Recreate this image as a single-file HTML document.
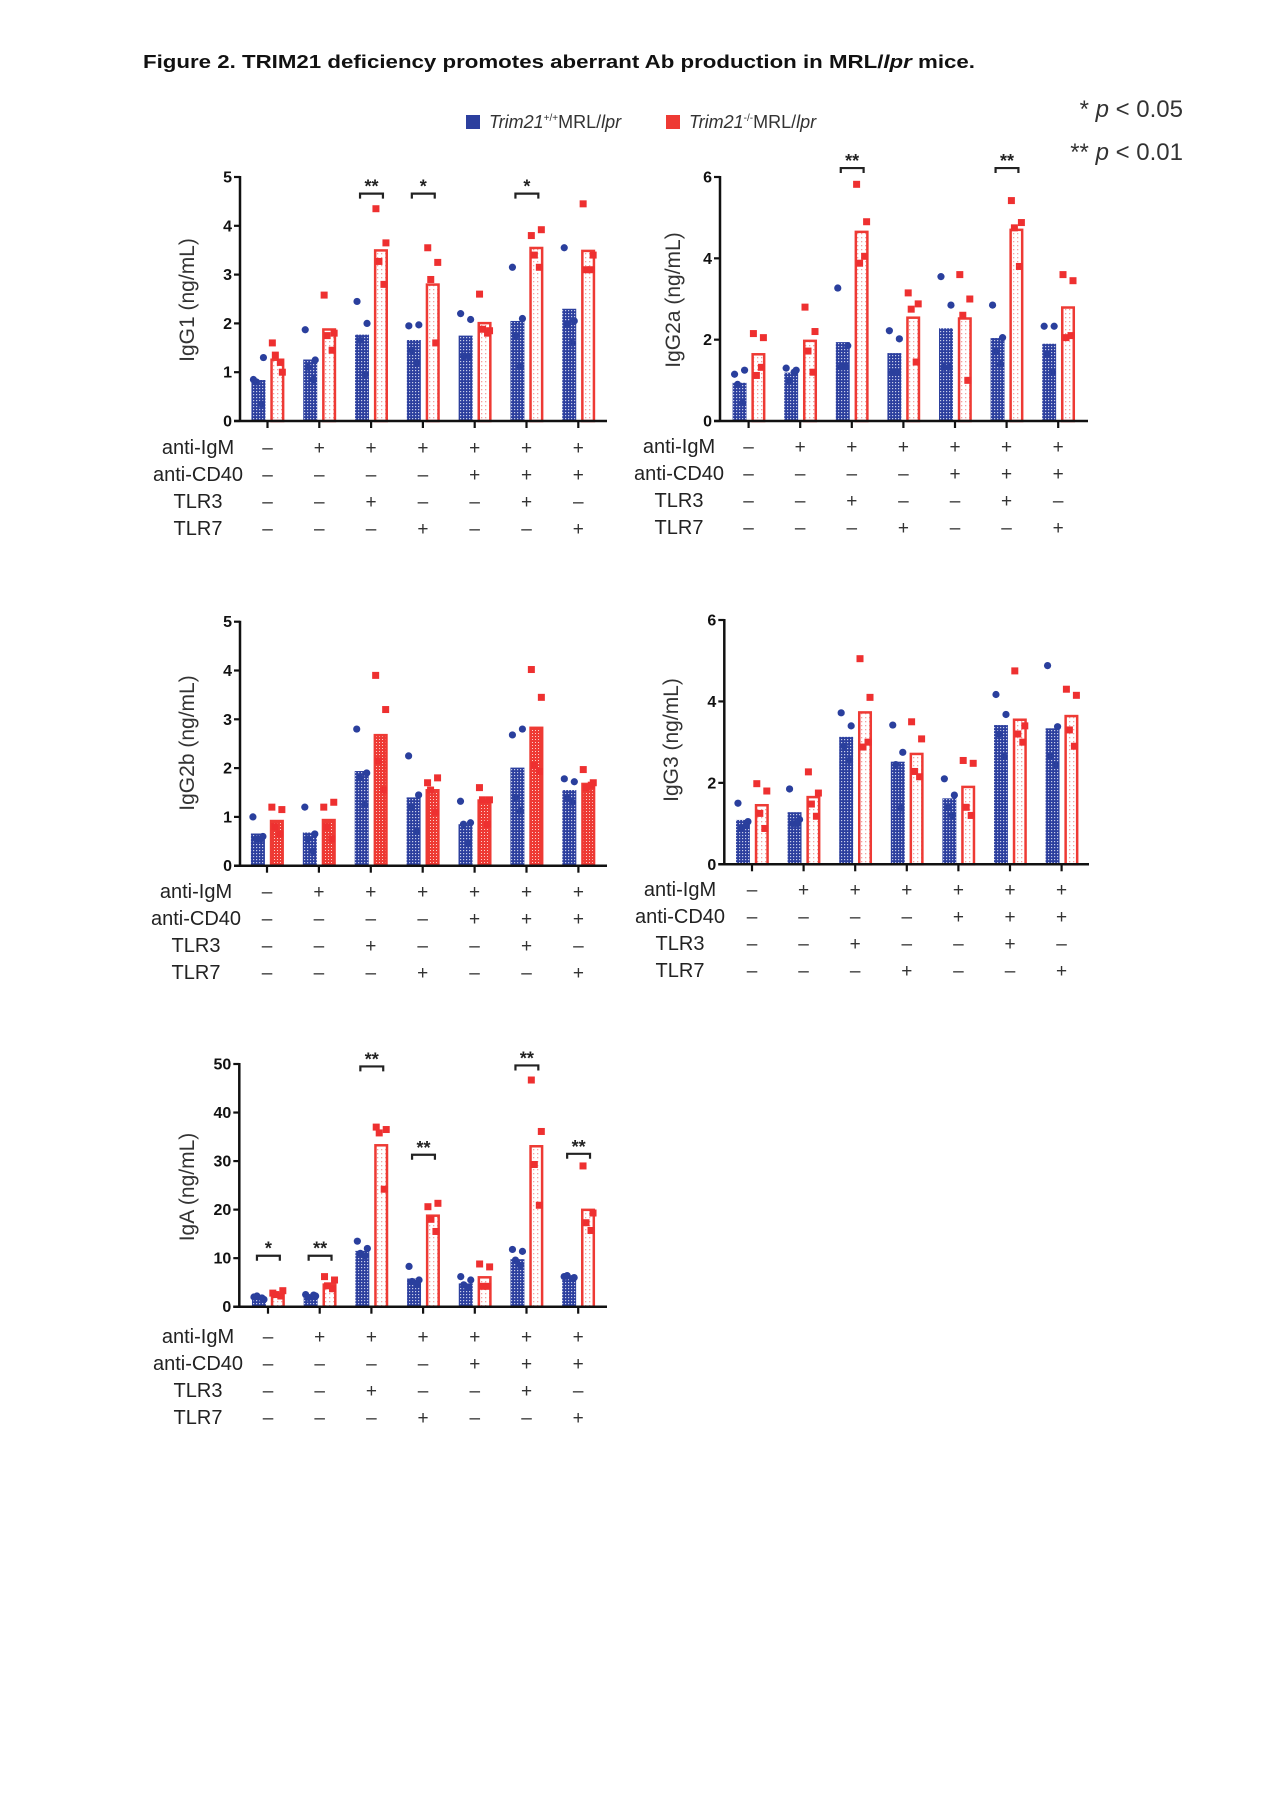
<!DOCTYPE html>
<html><head><meta charset="utf-8"><title>Figure 2</title>
<style>
html,body{margin:0;padding:0;background:#fff;}
svg{display:block;font-family:"Liberation Sans",Arial,sans-serif;}
</style></head>
<body>
<svg id="fig" xmlns="http://www.w3.org/2000/svg" width="1280" height="1813" viewBox="0 0 1280 1813">
<defs>
<pattern id="bluePat" width="3" height="3" patternUnits="userSpaceOnUse">
<rect width="3" height="3" fill="#2c3f9e"/><rect x="1" y="1" width="1.2" height="1.2" fill="#c8cdea"/>
</pattern>
<pattern id="redPat" width="4" height="4" patternUnits="userSpaceOnUse">
<rect width="4" height="4" fill="#fff"/><rect x="1" y="1" width="1.3" height="1.3" fill="#f4a0a0"/>
</pattern>
<pattern id="redPat2" width="3" height="3" patternUnits="userSpaceOnUse">
<rect width="3" height="3" fill="#ee3a34"/><rect x="1" y="1" width="1" height="1" fill="#fbd0cc"/>
</pattern>
</defs>
<rect width="1280" height="1813" fill="#fff"/>
<text x="143" y="68" font-size="18" font-weight="bold" fill="#111" textLength="832" lengthAdjust="spacingAndGlyphs">Figure 2.  TRIM21 deficiency promotes aberrant Ab production in MRL/<tspan font-style="italic">lpr</tspan> mice.</text>
<g>
<rect x="466" y="115" width="14" height="14" fill="#2c3f9e"/>
<text x="489" y="128" font-size="18" fill="#333"><tspan font-style="italic">Trim21</tspan><tspan font-size="10" dy="-7">+/+</tspan><tspan dy="7">MRL/</tspan><tspan font-style="italic">lpr</tspan></text>
<rect x="666" y="115" width="14" height="14" fill="#ee3a34"/>
<text x="689" y="128" font-size="18" fill="#333"><tspan font-style="italic">Trim21</tspan><tspan font-size="10" dy="-7">-/-</tspan><tspan dy="7">MRL/</tspan><tspan font-style="italic">lpr</tspan></text>
</g>
<text x="1183" y="117" text-anchor="end" font-size="24" fill="#333">* <tspan font-style="italic">p</tspan> &lt; 0.05</text>
<text x="1183" y="160" text-anchor="end" font-size="24" fill="#333">** <tspan font-style="italic">p</tspan> &lt; 0.01</text>
</svg>
<script>
// ---------- data ----------
const rowNames = ["anti-IgM", "anti-CD40", "TLR3", "TLR7"];
const conditions = [
  ["-", "+", "+", "+", "+", "+", "+"],
  ["-", "-", "-", "-", "+", "+", "+"],
  ["-", "-", "+", "-", "-", "+", "-"],
  ["-", "-", "-", "+", "-", "-", "+"]
];
const igg1WtBars = [0.84, 1.26, 1.77, 1.66, 1.75, 2.05, 2.3];
const igg1KoBars = [1.28, 1.9, 3.52, 2.82, 2.03, 3.57, 3.51];
const igg1WtPts = [[0.85,1.3,0.8,0.35],[1.87,1.25,1.1,0.85],[2.45,2.0,1.65,0.95],[1.95,1.97,1.45,1.2],[2.2,2.08,1.33,1.33],[3.15,2.1,1.75,1.12],[3.55,2.05,1.98,1.6]];
const igg1KoPts = [[1.6,1.0,1.35,1.2],[2.58,1.8,1.75,1.45],[4.35,3.65,3.27,2.8],[3.55,3.25,2.9,1.6],[2.6,1.85,1.88,1.8],[3.8,3.92,3.4,3.15],[4.45,3.4,3.1,3.1]];
const igg1Sig = ["", "", "**", "*", "", "*", ""];
const igg1SigLevel = [0, 0, 4.66, 4.66, 0, 4.66, 0];

const igg2aWtBars = [0.94, 1.19, 1.94, 1.67, 2.28, 2.04, 1.9];
const igg2aKoBars = [1.67, 2.0, 4.68, 2.57, 2.55, 4.73, 2.82];
const igg2aWtPts = [[1.15,1.25,0.9,0.45],[1.3,1.25,1.0,1.2],[3.27,1.85,1.33,1.33],[2.22,2.02,1.2,1.2],[3.55,2.85,1.32,1.32],[2.85,2.05,1.7,1.4],[2.33,2.33,1.65,1.2]];
const igg2aKoPts = [[2.15,2.05,1.12,1.32],[2.8,2.2,1.72,1.2],[5.82,4.9,3.88,4.05],[3.15,2.88,2.75,1.45],[3.6,3.0,2.6,1.0],[5.42,4.88,4.75,3.8],[3.6,3.45,2.05,2.1]];
const igg2aSig = ["", "", "**", "", "", "**", ""];
const igg2aSigLevel = [0, 0, 6.22, 0, 0, 6.22, 0];

const igg2bWtBars = [0.66, 0.68, 1.94, 1.4, 0.85, 2.01, 1.55];
const igg2bKoBars = [0.94, 0.96, 2.7, 1.57, 1.36, 2.85, 1.7];
const igg2bWtPts = [[1.0,0.6,0.55,0.55],[1.2,0.65,0.55,0.3],[2.8,1.9,1.8,1.25],[2.25,1.45,1.2,0.7],[1.32,0.88,0.85,0.45],[2.68,2.8,1.4,1.12],[1.78,1.72,1.4,1.3]];
const igg2bKoPts = [[1.2,1.15,0.8,0.65],[1.2,1.3,0.8,0.55],[3.9,3.2,2.15,1.55],[1.7,1.8,1.55,1.1],[1.6,1.35,1.35,0.85],[4.02,3.45,2.05,1.93],[1.97,1.7,1.6,1.65]];

const igg3WtBars = [1.09, 1.28, 3.13, 2.52, 1.62, 3.42, 3.34];
const igg3KoBars = [1.48, 1.68, 3.76, 2.74, 1.93, 3.58, 3.67];
const igg3WtPts = [[1.5,1.05,0.9,0.95],[1.85,1.1,1.0,1.0],[3.72,3.4,2.9,2.55],[3.42,2.75,2.45,1.38],[2.1,1.7,1.4,1.2],[4.17,3.68,3.2,2.65],[4.88,3.38,2.65,2.45]];
const igg3KoPts = [[1.98,1.8,1.25,0.88],[2.27,1.75,1.48,1.18],[5.05,4.1,2.88,3.0],[3.5,3.08,2.28,2.15],[2.55,2.48,1.4,1.2],[4.75,3.4,3.2,3.0],[4.3,4.15,3.3,2.9]];

const igaWtBars = [2.0, 2.2, 11.5, 5.8, 4.8, 9.8, 6.0];
const igaKoBars = [2.7, 4.8, 33.5, 19.0, 6.3, 33.3, 20.2];
const igaWtPts = [[2.0,1.5,2.2,1.8],[2.5,2.2,1.9,2.4],[13.5,12,11,10.5],[8.3,5.5,5.2,4.5],[6.2,5.5,4.5,4.0],[11.8,11.4,9.6,8.5],[6.2,6.0,6.4,5.8]];
const igaKoPts = [[2.8,3.3,2.5,2.2],[6.2,5.5,4.3,3.7],[37,36.5,35.8,24.2],[20.6,21.3,18.0,15.5],[8.8,8.2,4.2,4.2],[46.7,36.1,29.3,20.9],[29,19.3,17.3,15.7]];
const igaSig = ["*", "**", "**", "**", "", "**", "**"];
const igaSigLevel = [10.5, 10.5, 49.5, 31.3, 0, 49.7, 31.5];

const igg1Ticks = [0,1,2,3,4,5];
const igg2aTicks = [0,2,4,6];
const igg2bTicks = [0,1,2,3,4,5];
const igg3Ticks = [0,2,4,6];
const igaTicks = [0,10,20,30,40,50];

// ---------- drawing ----------
const NS = "http://www.w3.org/2000/svg";
const svg = document.getElementById("fig");
const jitter = [-5, 5, -2, 3];
function mk(tag, attrs, parent) {
  const e = document.createElementNS(NS, tag);
  for (const k in attrs) e.setAttribute(k, attrs[k]);
  (parent || svg).appendChild(e);
  return e;
}
function panel(cfg) {
  const g = mk("g", {});
  
  
  const yMax = cfg.ticks[cfg.ticks.length - 1];
  const ys = v => cfg.y0 - (v / yMax) * (cfg.y0 - cfg.yTop);
  const xs = i => cfg.x0 + i * cfg.step;
  const bw = cfg.step * 0.27;
  for (let i = 0; i < cfg.wt.length; i++) {
    const cb = xs(i) - cfg.step * 0.175, cr = xs(i) + cfg.step * 0.19;
    const b = mk("rect", {x: cb - bw/2, y: ys(cfg.wt[i]), width: bw, height: cfg.y0 - ys(cfg.wt[i]), fill: "url(#bluePat)"}, g);
    
    
    const r = mk("rect", {x: cr - bw/2 + 1.2, y: ys(cfg.ko[i]) + 1.2, width: bw - 2.4, height: cfg.y0 - ys(cfg.ko[i]) - 1.2, fill: cfg.redFill, stroke: "#ee3a34", "stroke-width": 2.5}, g);
    
    
    cfg.wtPts[i].forEach((v, k) => {
      const c = mk("circle", {cx: cb + jitter[k], cy: ys(v), r: 3.6, fill: "#2a3f9d"}, g);
      
      
    });
    cfg.koPts[i].forEach((v, k) => {
      const s = mk("rect", {x: cr + jitter[k] - 3.5, y: ys(v) - 3.5, width: 7, height: 7, fill: "#ee3030"}, g);
      
      
    });
    if (cfg.sig && cfg.sig[i]) {
      const yy = ys(cfg.sigLevel[i]);
      const br = mk("path", {d: `M${cb-2} ${yy+5} V${yy} H${cr+2} V${yy+5}`, fill: "none", stroke: "#222", "stroke-width": 2.2}, g);
      
      
      const st = mk("text", {x: (cb+cr)/2, y: yy - 1, "text-anchor": "middle", "font-size": 18, "font-weight": "bold", fill: "#222"}, g);
      
      
      st.textContent = cfg.sig[i];
    }
  }
  const ya = mk("line", {x1: cfg.ax, y1: cfg.yTop - 1, x2: cfg.ax, y2: cfg.y0 + 1, stroke: "#111", "stroke-width": 2.5}, g);
  
  
  const xa = mk("line", {x1: cfg.ax - 6, y1: cfg.y0, x2: cfg.axEnd, y2: cfg.y0, stroke: "#111", "stroke-width": 2.5}, g);
  
  
  cfg.ticks.forEach(t => {
    mk("line", {x1: cfg.ax - 6, y1: ys(t), x2: cfg.ax, y2: ys(t), stroke: "#111", "stroke-width": 2.2}, g);
    const tl = mk("text", {x: cfg.ax - 8, y: ys(t) + 5.5, "text-anchor": "end", "font-size": 16, "font-weight": "bold", fill: "#111"}, g);
    
    
    tl.textContent = t;
  });
  for (let i = 0; i < cfg.wt.length; i++) {
    mk("line", {x1: xs(i), y1: cfg.y0, x2: xs(i), y2: cfg.y0 + 7, stroke: "#111", "stroke-width": 2.2}, g);
  }
  const yt = mk("text", {x: cfg.ylx, y: cfg.yly, "text-anchor": "middle", "font-size": 21, fill: "#333", transform: `rotate(-90 ${cfg.ylx} ${cfg.yly})`}, g);
  
  
  yt.textContent = cfg.ytitle;
  rowNames.forEach((rn, r) => {
    const yy = cfg.rowY[r];
    const lt = mk("text", {x: cfg.rowLabelX, y: yy, "text-anchor": "middle", "font-size": 20, fill: "#222"}, g);
    
    
    lt.textContent = rn;
    conditions[r].forEach((c, i) => {
      const ct = mk("text", {x: xs(i), y: yy, "text-anchor": "middle", "font-size": 19, fill: "#333"}, g);
      
      
      ct.textContent = c === "+" ? "+" : "\u2013";
    });
  });
}
panel({name: "igg1-chart", ytitle: "IgG1 (ng/mL)", ticks: igg1Ticks, wt: igg1WtBars, ko: igg1KoBars, wtPts: igg1WtPts, koPts: igg1KoPts, sig: igg1Sig, sigLevel: igg1SigLevel,
  ax: 240, axEnd: 607, y0: 421, yTop: 177, x0: 267.5, step: 51.8, redFill: "url(#redPat)", ylx: 194, yly: 300, rowLabelX: 198, rowY: [454, 481, 508, 535]});
panel({name: "igg2a-chart", ytitle: "IgG2a (ng/mL)", ticks: igg2aTicks, wt: igg2aWtBars, ko: igg2aKoBars, wtPts: igg2aWtPts, koPts: igg2aKoPts, sig: igg2aSig, sigLevel: igg2aSigLevel,
  ax: 720, axEnd: 1088, y0: 421, yTop: 177, x0: 748.6, step: 51.6, redFill: "url(#redPat)", ylx: 680, yly: 300, rowLabelX: 679, rowY: [453, 480, 507, 534]});
panel({name: "igg2b-chart", ytitle: "IgG2b (ng/mL)", ticks: igg2bTicks, wt: igg2bWtBars, ko: igg2bKoBars, wtPts: igg2bWtPts, koPts: igg2bKoPts,
  ax: 240, axEnd: 607, y0: 865.7, yTop: 621.7, x0: 267, step: 51.9, redFill: "url(#redPat2)", ylx: 194, yly: 743, rowLabelX: 196, rowY: [898, 925, 952, 979]});
panel({name: "igg3-chart", ytitle: "IgG3 (ng/mL)", ticks: igg3Ticks, wt: igg3WtBars, ko: igg3KoBars, wtPts: igg3WtPts, koPts: igg3KoPts,
  ax: 724.3, axEnd: 1089, y0: 864.3, yTop: 620, x0: 752, step: 51.6, redFill: "url(#redPat)", ylx: 678, yly: 740, rowLabelX: 680, rowY: [896, 923, 950, 977]});
panel({name: "iga-chart", ytitle: "IgA (ng/mL)", ticks: igaTicks, wt: igaWtBars, ko: igaKoBars, wtPts: igaWtPts, koPts: igaKoPts, sig: igaSig, sigLevel: igaSigLevel,
  ax: 239.3, axEnd: 607, y0: 1306.7, yTop: 1064, x0: 268, step: 51.7, redFill: "url(#redPat)", ylx: 194, yly: 1187, rowLabelX: 198, rowY: [1343, 1370, 1397, 1424]});
</script>
</body></html>
